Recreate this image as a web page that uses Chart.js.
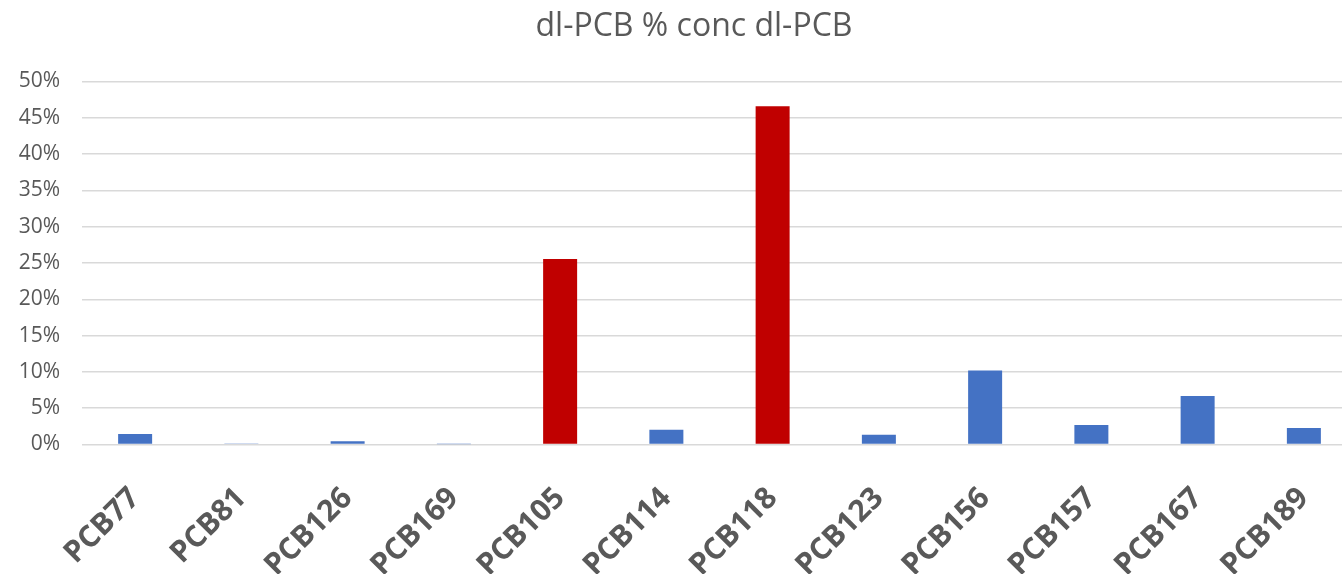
<!DOCTYPE html>
<html>
<head>
<meta charset="utf-8">
<script src="https://cdn.jsdelivr.net/npm/chart.js@4/dist/chart.umd.min.js"></script>
<style>
  html, body { margin: 0; padding: 0; background: #fff; overflow: hidden; }
  #wrap { width: 1388px; height: 574px; }
</style>
</head>
<body>
<div id="wrap"><canvas id="chart-1" width="1388" height="574"></canvas></div>
<script>
const ctx1 = document.getElementById('chart-1');

// congeners and their share of total dl-PCB concentration (%)
var labels1 = ['PCB77', 'PCB81', 'PCB126', 'PCB169', 'PCB105', 'PCB114',
               'PCB118', 'PCB123', 'PCB156', 'PCB157', 'PCB167', 'PCB189'];
var values1 = [1.45, 0.13, 0.44, 0.05, 25.55, 2.04, 46.6, 1.35, 10.2, 2.69, 6.68, 2.27];
var highlight1 = ['PCB105', 'PCB118'];
var yTicks1 = [0, 5, 10, 15, 20, 25, 30, 35, 40, 45, 50];

var colors1 = labels1.map(l => highlight1.includes(l) ? '#C00000' : '#4472C4');
var grey = '#595959';

// excel centres the title a bit right of the canvas middle
const titleShift = {
    id: 'titleShift',
    afterLayout(chart) {
        if (chart.titleBlock) chart.titleBlock.left += 31;
    }
};

new Chart(ctx1, {
    type: 'bar',
    data: {
        labels: labels1,
        datasets: [{
            label: 'dl-PCB % conc dl-PCB',
            data: values1,
            backgroundColor: colors1,
            borderWidth: 0,
            barPercentage: 0.32,
            categoryPercentage: 1
        }]
    },
    options: {
        responsive: false,
        animation: false,
        layout: { padding: { left: 0, right: 31, top: 0, bottom: 0 } },
        plugins: {
            legend: { display: false },
            tooltip: { enabled: false },
            title: {
                display: true,
                text: 'dl-PCB % conc dl-PCB',
                color: grey,
                font: { family: 'Open Sans', size: 32, weight: 'normal' },
                padding: { top: 8, bottom: 35.1 }
            }
        },
        scales: {
            x: {
                afterFit: s => { s.height = 129.5; },
                grid: { display: false },
                border: { display: false },
                ticks: {
                    color: grey,
                    font: { family: 'Open Sans', size: 30, weight: 'bold' },
                    maxRotation: 45,
                    minRotation: 45,
                    padding: 28
                }
            },
            y: {
                min: 0,
                max: 50,
                afterFit: s => { s.width = 82; },
                afterBuildTicks: s => { s.ticks = yTicks1.map(v => ({ value: v })); },
                grid: { color: '#d9d9d9', lineWidth: 1.5, drawTicks: false },
                border: { display: false },
                ticks: {
                    color: grey,
                    font: { family: 'Open Sans', size: 21 },
                    padding: 22,
                    callback: v => v + '%'
                }
            }
        }
    },
    plugins: [titleShift]
});
</script>
</body>
</html>
